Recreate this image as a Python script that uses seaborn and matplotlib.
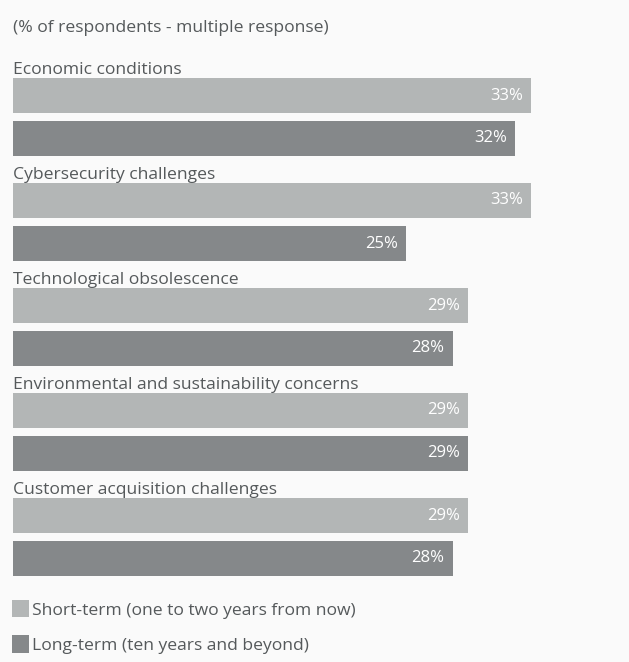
import matplotlib
matplotlib.use("Agg")
import matplotlib.pyplot as plt
import seaborn as sns
import pandas as pd

categories = ["Economic conditions", "Cybersecurity challenges", "Technological obsolescence",
              "Environmental and sustainability concerns", "Customer acquisition challenges"]
short_term = [33, 33, 29, 29, 29]
long_term = [32, 25, 28, 29, 28]
series_names = ["Short-term (one to two years from now)", "Long-term (ten years and beyond)"]
title = "(% of respondents - multiple response)"

BG = "#fafafa"
LIGHT = "#b3b6b6"
DARK = "#85888a"
TXT = "#55595b"

sns.set_theme(style="white")
plt.rcParams["font.family"] = ["Open Sans", "DejaVu Sans"]

df = pd.DataFrame({
    "category": categories * 2,
    "value": short_term + long_term,
    "series": [series_names[0]] * len(categories) + [series_names[1]] * len(categories),
})

W, H = 629, 662
fig = plt.figure(figsize=(W / 100, H / 100), dpi=100, facecolor=BG)
ax = fig.add_axes([0, 0, 1, 1])
ax.set_facecolor(BG)

sns.barplot(data=df, y="category", x="value", hue="series", orient="h",
            palette=[LIGHT, DARK], width=86 / 105, gap=8 / 43, ax=ax,
            legend=True, saturation=1, edgecolor="none", linewidth=0)

px_per = 15.7
x0 = 13
ax.set_xlim(-x0 / px_per, (W - x0) / px_per)
c0 = 117
step = 105
ax.set_ylim((H - c0) / step, -c0 / step)
ax.axis("off")

fs = 12.6
for i, cat in enumerate(categories):
    ax.text(0, i - (c0 - 74) / step, cat, ha="left", va="baseline",
            fontsize=fs, color=TXT)

for cont in ax.containers:
    for bar in cont:
        w = bar.get_width()
        yc = bar.get_y() + bar.get_height() / 2
        ax.text(w - 8 / px_per, yc, f"{int(round(w))}%", ha="right", va="center",
                fontsize=12, color="white")

fig.text(13 / W, 1 - 28 / H, title, ha="left", va="center", fontsize=fs, color=TXT)

handles, labels = ax.get_legend_handles_labels()
if ax.legend_:
    ax.legend_.remove()
leg = fig.legend(handles, labels, loc="upper left", bbox_to_anchor=(12 / W, 1 - 600 / H),
                 frameon=False, handlelength=0.95, handleheight=1.15, handletextpad=0.2,
                 labelspacing=0.95, fontsize=fs, borderpad=0, borderaxespad=0)
for t in leg.get_texts():
    t.set_color(TXT)

fig.savefig("out.png", dpi=100, facecolor=BG)
